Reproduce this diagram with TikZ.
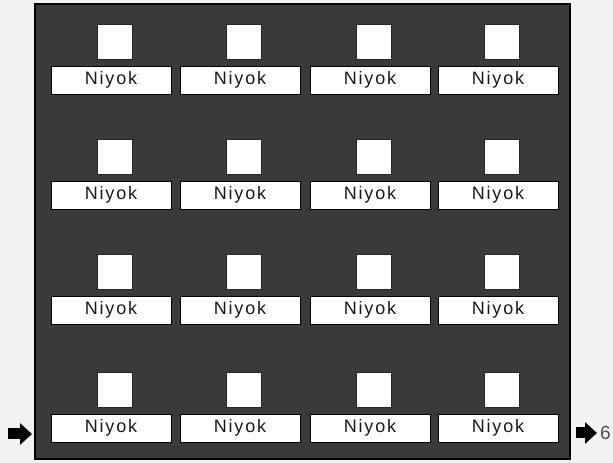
\documentclass[tikz,border=0pt]{standalone}
\usepackage{fontspec}
\setmainfont{Liberation Sans}
\newfontfamily\niyokfont[LetterSpace=10]{Liberation Sans}
\usetikzlibrary{arrows.meta}
\definecolor{boardgray}{RGB}{58,58,58}
\definecolor{papergray}{RGB}{242,242,242}
\tikzset{
	niyokbox/.style={draw=black,fill=white,line width=0.9pt,minimum width=120pt,minimum height=28pt,inner sep=0pt,font=\niyokfont\fontsize{18}{18}\selectfont,text=black!90},
	blankbox/.style={draw=black!85,fill=white,line width=0.9pt,minimum size=35pt,inner sep=0pt},
	flowarrow/.style={line width=11pt,-{Triangle[length=12pt,width=21pt]}}
}
\begin{document}
\begin{tikzpicture}[x=1pt,y=1pt]
				\useasboundingbox (0,0) rectangle (613,463);
				\fill[papergray] (0,0) rectangle (613,463);
				\node[draw=black,line width=1.4pt,fill=boardgray,minimum width=535pt,minimum height=455pt,inner sep=0pt] (board) at (302.5,231.5) {};
				\foreach \c/\x in {1/111,2/240,3/370,4/498}
					\foreach \r/\y in {1/383,2/268,3/153,4/35}{
						\node[niyokbox] (n\r\c) at (\x,\y) {Niyok};
						\node[blankbox] (b\r\c) at (\x+3.5,\y+38) {};
					}
				\coordinate (inS) at (8,29);
				\coordinate (inE) at (32,29);
				\coordinate (outS) at (576,30);
				\coordinate (outE) at (597,30);
				\draw[flowarrow] (inS)--(inE);
				\draw[flowarrow] (outS)--(outE);
				\node[anchor=west,inner sep=0pt,text=black!70,font=\fontsize{19}{19}\selectfont] (out) at (600,30) {6};
			\end{tikzpicture}
\end{document}
